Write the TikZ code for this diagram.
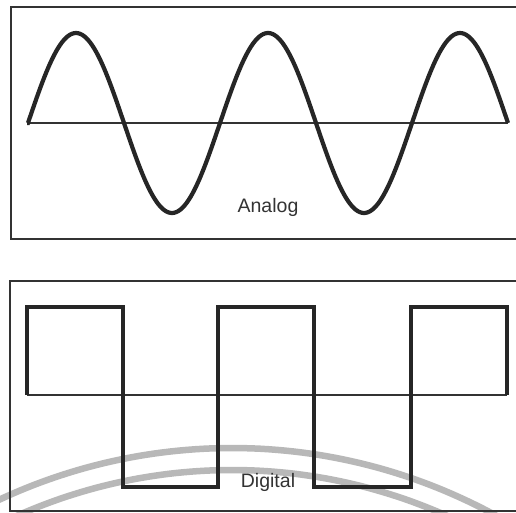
\documentclass[tikz,border=0pt]{standalone}
\usepackage{fontspec}
\setmainfont{Liberation Sans}
\begin{document}
\begin{tikzpicture}[x=1pt,y=-1pt,
  frame/.style={draw=black!80, line width=1.8pt},
  axisline/.style={draw=black!80, line width=1.6pt},
  wave/.style={draw=black!85, line width=4.2pt, line join=miter},
  sealarc/.style={draw=black!28, line width=6.5pt},
  caption/.style={font=\fontsize{19.5}{20}\selectfont, text=black!80, inner sep=0pt, anchor=base}]
  \useasboundingbox (0,0) rectangle (516,513);
  \clip (0,0) rectangle (516,513);
  \fill[white] (0,0) rectangle (516,513);

  % faint arcs of the background seal
  \draw[sealarc] plot[domain=-34:34, samples=80] ({232+550*sin(\x)},{998-550*cos(\x)});
  \draw[sealarc] plot[domain=-32:32, samples=80] ({232+528*sin(\x)},{998-528*cos(\x)});

  % --- analog panel: 2.5 periods of 192 units ---
  \draw[frame] (11,7) rectangle (540,239);
  \coordinate (a0) at (27,123);
  \coordinate (a1) at (508,123);
  \draw[axisline] (a0) -- (a1);
  \draw[wave] (a0) -- plot[domain=0:480, samples=240] ({28+\x},{123-90*sin(\x*1.875)}) -- (a1);
  \node[caption] (analog) at (268,212) {Analog};

  % --- digital panel ---
  \draw[frame] (10,281) rectangle (540,511);
  \coordinate (d0) at (27,395);
  \coordinate (d1) at (507,395);
  \draw[axisline] (d0) -- (d1);
  \draw[wave] (d0) -- (27,307) -- (123,307) -- (123,487) -- (218,487) -- (218,307)
    -- (314,307) -- (314,487) -- (411,487) -- (411,307) -- (507,307) -- (d1);
  \node[caption] (digital) at (268,487) {Digital};
\end{tikzpicture}
\end{document}
